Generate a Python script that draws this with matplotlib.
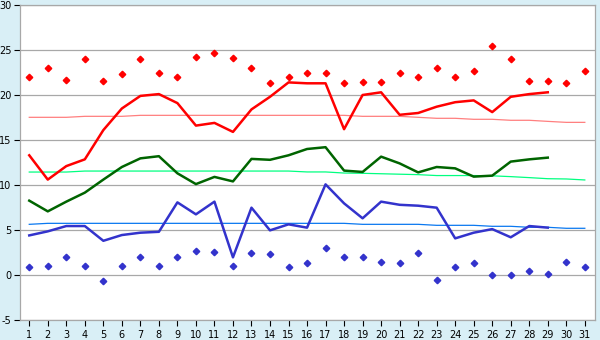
import matplotlib
matplotlib.use("Agg")
import matplotlib.pyplot as plt

days = list(range(1, 32))
days_obs = list(range(1, 30))

# daily max / mean / min (observed days only)
t_max = [13.3, 10.6, 12.1, 12.85, 16.1, 18.5, 19.9, 20.1, 19.1, 16.6, 16.9, 15.9, 18.4, 19.8, 21.4,
         21.3, 21.3, 16.2, 20.0, 20.3, 17.8, 18.0, 18.7, 19.2, 19.4, 18.1, 19.8, 20.1, 20.3]
t_mean = [8.26, 7.07, 8.15, 9.15, 10.6, 12.0, 12.96, 13.2, 11.3, 10.1, 10.9, 10.4, 12.9, 12.8, 13.3,
          14.0, 14.2, 11.6, 11.45, 13.15, 12.4, 11.4, 12.0, 11.85, 10.93, 11.04, 12.6, 12.85, 13.04]
t_min = [4.4, 4.85, 5.44, 5.44, 3.8, 4.44, 4.7, 4.8, 8.07, 6.74, 8.15, 1.96, 7.48, 4.96, 5.63,
         5.26, 10.07, 7.96, 6.3, 8.15, 7.8, 7.7, 7.48, 4.07, 4.7, 5.1, 4.19, 5.44, 5.26]

# record high / low points
rec_max = [22.0, 23.0, 21.7, 24.0, 21.6, 22.3, 24.0, 22.4, 22.0, 24.2, 24.7, 24.1, 23.0, 21.3, 22.0, 22.4,
           22.4, 21.3, 21.5, 21.4, 22.4, 22.0, 23.0, 22.0, 22.7, 25.5, 24.0, 21.6, 21.6, 21.3, 22.7]
rec_min = [0.85, 0.96, 1.96, 0.96, -0.7, 0.96, 1.96, 0.96, 1.96, 2.67, 2.56, 0.96, 2.4, 2.3, 0.85, 1.3,
           2.96, 1.96, 1.96, 1.4, 1.3, 2.5, -0.6, 0.85, 1.3, 0.0, 0.0, 0.5, 0.07, 1.4, 0.85]

# normals
norm_max = [17.52, 17.52, 17.52, 17.63, 17.63, 17.63, 17.74, 17.74, 17.74, 17.74, 17.74, 17.74, 17.74, 17.74,
            17.74, 17.74, 17.74, 17.74, 17.63, 17.63, 17.63, 17.52, 17.41, 17.41, 17.3, 17.3, 17.19, 17.19,
            17.07, 16.96, 16.96]
norm_mean = [11.44, 11.44, 11.44, 11.55, 11.55, 11.55, 11.55, 11.55, 11.55, 11.55, 11.55, 11.55, 11.55, 11.55,
             11.55, 11.45, 11.45, 11.33, 11.3, 11.25, 11.2, 11.15, 11.05, 11.05, 11.05, 11.02, 10.93, 10.82,
             10.7, 10.67, 10.56]
norm_min = [5.63, 5.74, 5.74, 5.74, 5.74, 5.74, 5.74, 5.74, 5.74, 5.74, 5.74, 5.74, 5.74, 5.74, 5.74,
            5.74, 5.74, 5.74, 5.63, 5.63, 5.63, 5.63, 5.52, 5.52, 5.52, 5.41, 5.41, 5.3, 5.3, 5.19, 5.19]

bg = "#d9eff6"
grey = "#a8a8a8"
plt.rcParams["axes.unicode_minus"] = False
plt.rcParams["font.family"] = "DejaVu Sans"

fig = plt.figure(figsize=(6, 3.4), dpi=100, facecolor=bg)
ax = fig.add_axes([20 / 600, 20 / 340, 575 / 600, 315 / 340])
ax.set_facecolor("white")

ax.plot(days, norm_max, color="#ff7f7f", linewidth=0.9)
ax.plot(days, norm_mean, color="#00ff80", linewidth=0.9)
ax.plot(days, norm_min, color="#0a78f0", linewidth=0.9)

ax.plot(days_obs, t_max, color="#ff0000", linewidth=1.8)
ax.plot(days_obs, t_mean, color="#006400", linewidth=1.8)
ax.plot(days_obs, t_min, color="#3333cc", linewidth=1.8)

ax.plot(days, rec_max, linestyle="none", marker="D", markersize=3.3, color="#ff0000")
ax.plot(days, rec_min, linestyle="none", marker="D", markersize=3.3, color="#3333cc")

ax.set_xlim(0.5, 31.55)
ax.set_ylim(-5, 30)
ax.set_xticks(days)
ax.set_yticks(range(-5, 31, 5))
ax.yaxis.grid(True, color=grey, linewidth=0.9)
ax.set_axisbelow(True)
for s in ax.spines.values():
    s.set_color(grey)
    s.set_linewidth(0.9)
ax.tick_params(axis="both", colors="black", labelsize=7, length=4, width=0.8, pad=2)
ax.tick_params(axis="x", pad=3)
for t in ax.get_xticklines() + ax.get_yticklines():
    t.set_color(grey)

plt.savefig("out.png", dpi=100, facecolor=bg)
